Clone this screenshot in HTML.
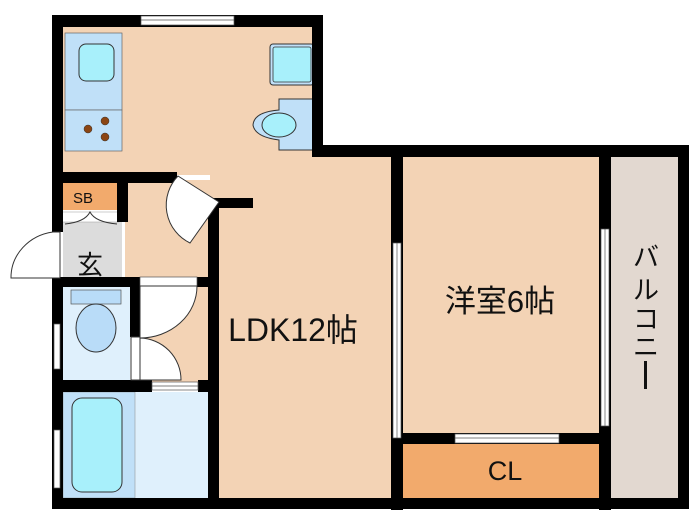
<!DOCTYPE html>
<html><head><meta charset="utf-8"><style>
html,body{margin:0;padding:0;background:#fff;width:700px;height:525px;overflow:hidden}
svg{display:block}
text{font-family:"Liberation Sans","Noto Sans CJK JP",sans-serif;fill:#111}
</style></head><body>
<svg width="700" height="525" viewBox="0 0 700 525" xmlns="http://www.w3.org/2000/svg">
<rect x="60" y="25" width="256" height="150" fill="#f3d3b5"/>
<rect x="210" y="150" width="395" height="350" fill="#f3d3b5"/>
<rect x="125" y="180" width="90" height="100" fill="#f3d3b5"/>
<rect x="135" y="285" width="75" height="100" fill="#f3d3b5"/>
<rect x="611" y="157" width="67" height="341" fill="#e2d8d0"/>
<rect x="403" y="444" width="196" height="54" fill="#f2aa6c"/>
<rect x="63" y="183" width="54" height="27" fill="#f2aa6c"/>
<rect x="63" y="213" width="59" height="64" fill="#dcdcdc"/>
<rect x="61" y="212" width="58" height="10" fill="#fff" stroke="#999" stroke-width="0.5"/>
<path d="M65 224 Q85 222 90 212 Q95 222 117 224" fill="none" stroke="#333" stroke-width="1"/>
<rect x="63" y="287" width="67" height="93" fill="#dff0fc"/>
<rect x="63" y="392" width="145" height="106" fill="#dff0fc"/>
<rect x="63" y="392" width="72" height="106" fill="#c0e0f8" stroke="#888" stroke-width="0.5"/>
<rect x="72" y="398" width="50" height="94" rx="10" fill="#a8f0fb" stroke="#333" stroke-width="1"/>
<rect x="71" y="290" width="50" height="14" fill="#b9dcf8" stroke="#555" stroke-width="0.7"/>
<ellipse cx="96" cy="328" rx="20" ry="24" fill="#b9dcf8" stroke="#333" stroke-width="1"/>
<rect x="65" y="33" width="57" height="77" fill="#c0e0f8" stroke="#666" stroke-width="0.7"/>
<rect x="65" y="110" width="57" height="41" fill="#c0e0f8" stroke="#666" stroke-width="0.7"/>
<rect x="79" y="44" width="35" height="37" rx="7" fill="#a8f0fb" stroke="#333" stroke-width="1"/>
<circle cx="88" cy="129" r="4" fill="#8b4513" stroke="#333" stroke-width="0.5"/>
<circle cx="105" cy="121" r="4" fill="#8b4513" stroke="#333" stroke-width="0.5"/>
<circle cx="105" cy="137" r="4" fill="#8b4513" stroke="#333" stroke-width="0.5"/>
<rect x="270" y="44" width="44" height="41" rx="3" fill="#c0e0f8" stroke="#333" stroke-width="1"/>
<rect x="273" y="47" width="38" height="35" rx="2" fill="#a8f0fb" stroke="#333" stroke-width="0.8"/>
<path d="M314 99 L279 99 L279 110 Q254 112 253 125 Q255 137 279 140 L279 150 L314 150 Z" fill="#c0e0f8" stroke="#333" stroke-width="1"/>
<ellipse cx="279" cy="125" rx="17" ry="12" fill="#a8f0fb" stroke="#333" stroke-width="1"/>
<g fill="#000">
<rect x="52" y="15" width="271" height="12"/>
<rect x="52" y="15" width="11" height="217"/>
<rect x="52" y="278" width="11" height="231"/>
<rect x="312" y="15" width="11" height="140"/>
<rect x="312" y="145" width="377" height="12"/>
<rect x="678" y="145" width="11" height="364"/>
<rect x="52" y="498" width="637" height="11"/>
<rect x="52" y="172" width="125" height="11"/>
<rect x="117" y="183" width="11" height="39"/>
<rect x="208" y="198" width="45" height="10"/>
<rect x="208" y="198" width="11" height="300"/>
<rect x="52" y="277" width="88" height="10"/>
<rect x="197" y="277" width="11" height="10"/>
<rect x="130" y="277" width="10" height="60"/>
<rect x="52" y="380" width="100" height="12"/>
<rect x="198" y="380" width="10" height="12"/>
<rect x="391" y="145" width="12" height="365"/>
<rect x="599" y="145" width="12" height="365"/>
<rect x="391" y="433" width="220" height="11"/>
</g>
<g fill="#fff" stroke="#555" stroke-width="0.7">
<rect x="141" y="16" width="93" height="9"/>
<line x1="141" y1="20" x2="234" y2="20"/>
<rect x="393" y="243" width="8" height="195"/>
<line x1="397" y1="243" x2="397" y2="438"/>
<rect x="601" y="229" width="8" height="197"/>
<line x1="605" y1="229" x2="605" y2="426"/>
<rect x="455" y="434" width="104" height="9"/>
<line x1="455" y1="438" x2="559" y2="438"/>
<rect x="54" y="324" width="6" height="45"/>
<rect x="54" y="430" width="6" height="58"/>
<rect x="152" y="382" width="46" height="8"/>
<line x1="152" y1="386" x2="198" y2="386"/>
<rect x="140" y="277" width="57" height="9"/>
</g>
<g fill="#fff" stroke="#333" stroke-width="1">
<path d="M53 232 L60 232 L60 278 L11 278 A49 46 0 0 1 53 232 Z"/>
<path d="M140 286 L197 286 A57 52 0 0 1 140 338 Z"/>
<rect x="131" y="337" width="9" height="43"/>
<path d="M140 338 A42 42 0 0 1 181 380 L140 380 Z"/>
<path d="M178 176 L219 202 L190 243 A42 42 0 0 1 178 176 Z"/>
</g>
<text x="73" y="203" font-size="15">SB</text>
<text x="90" y="274" font-size="26" text-anchor="middle">玄</text>
<text x="293" y="341" font-size="32" text-anchor="middle">LDK12帖</text>
<text x="500" y="312" font-size="31" text-anchor="middle">洋室6帖</text>
<text x="505" y="480" font-size="27" text-anchor="middle">CL</text>
<text font-size="26" text-anchor="middle"><tspan x="646" y="266">バ</tspan><tspan x="646" y="299">ル</tspan><tspan x="646" y="328">コ</tspan><tspan x="646" y="356">ニ</tspan></text>
<rect x="644" y="361" width="3" height="28" fill="#111"/>
</svg>
</body></html>
